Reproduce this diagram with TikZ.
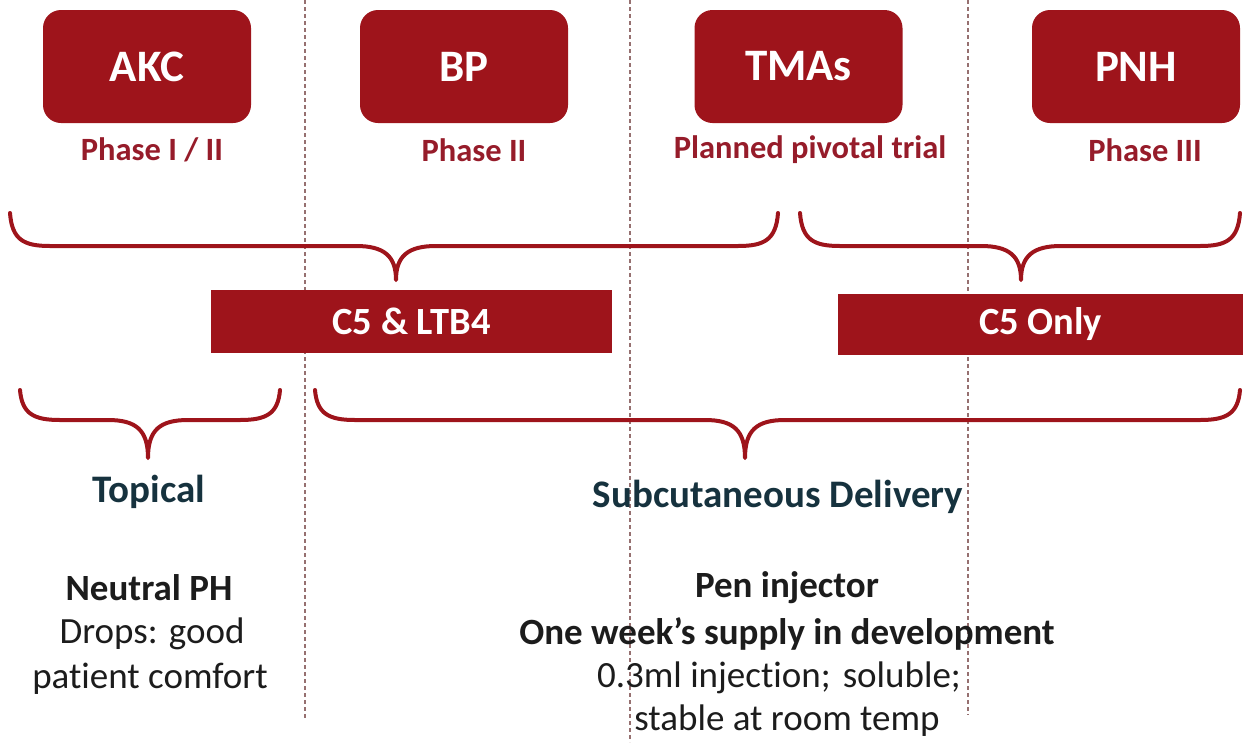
\documentclass[tikz,border=0pt]{standalone}
\usepackage{fontspec}
\setmainfont[Ligatures=NoCommon]{Carlito}
\definecolor{boxred}{RGB}{158,20,27}
\definecolor{phasered}{RGB}{150,28,42}
\definecolor{headteal}{RGB}{22,50,62}
\definecolor{bodyink}{RGB}{28,28,28}
\definecolor{guide}{RGB}{150,112,112}

% curly brace opening downwards: left tip, right tip, cusp x, tip y, bar y, cusp y
\newcommand\curlybrace[6]{%
  \draw[bracestroke] (#1,#4)
    .. controls (#1+2,#5-6) and (#1+14,#5) .. (#1+40,#5)
    -- (#3-40,#5)
    .. controls (#3-12,#5) and (#3,#5+10) .. (#3,#6)
    .. controls (#3,#5+10) and (#3+12,#5) .. (#3+40,#5)
    -- (#2-40,#5)
    .. controls (#2-14,#5) and (#2-2,#5-6) .. (#2,#4);}

\begin{document}
\begin{tikzpicture}[x=1pt,y=-1pt,
  indication/.style={fill=boxred, rounded corners=18pt, minimum width=208pt,
    minimum height=113pt, inner sep=0pt, text=white,
    font=\bfseries\fontsize{45}{54}\selectfont},
  phase/.style={text=phasered, font=\bfseries\fontsize{32.5}{39}\selectfont},
  target/.style={fill=boxred, inner sep=0pt, text=white,
    font=\bfseries\fontsize{38.5}{46}\selectfont},
  route/.style={text=headteal, font=\bfseries\fontsize{39}{47}\selectfont},
  keypoint/.style={text=bodyink, font=\bfseries\fontsize{37}{44}\selectfont},
  detail/.style={text=bodyink, font=\fontsize{37}{44}\selectfont},
  bracestroke/.style={draw=boxred, line width=4pt, line cap=round, line join=round},
  divider/.style={draw=guide, line width=1.2pt, dash pattern=on 4pt off 3pt}]

\useasboundingbox (0,0) rectangle (1247,742);

% column dividers
\draw[divider] (305,0) -- (305,720);
\draw[divider] (630,0) -- (630,742);
\draw[divider] (968,0) -- (968,715);

% indications and their trial phase
\node[indication] (akc) at (147,66.5) {AKC};
\node[indication] (bp) at (464,66.5) {BP};
\node[indication] (tma) at (798.5,66.5) {TMAs};
\node[indication] (pnh) at (1136,66.5) {PNH};

\node[phase] (akcph) at (152,150) {Phase I / II};
\node[phase] (bpph) at (474,150) {Phase II};
\node[phase] (tmaph) at (810,150) {Planned pivotal trial};
\node[phase] (pnhph) at (1145,150) {Phase III};

% groupings by target
\curlybrace{10}{778}{396}{213}{246}{280}
\curlybrace{800}{1240}{1021}{213}{246}{280}

\node[target, minimum width=401pt, minimum height=63pt] (dual) at (411.5,321.5) {C5 \& LTB4};
\node[target, minimum width=405pt, minimum height=61pt] (single) at (1040.5,324.5) {C5 Only};

% groupings by delivery route
\curlybrace{20}{280}{148}{390}{420}{458}
\curlybrace{315}{1240}{745}{390}{420}{458}

\node[route] (topical) at (149,492) {Topical};
\node[route] (subq) at (778,497) {Subcutaneous Delivery};

\node[keypoint] (neutral) at (149,588) {Neutral PH};
\node[detail] (drops) at (152,634) {Drops: good};
\node[detail] (comfort) at (150,679) {patient comfort};

\node[keypoint] (pen) at (787,588) {Pen injector};
\node[keypoint] (supply) at (787,634) {One week’s supply in development};
\node[detail] (inject) at (779,678) {0.3ml injection;\hspace{12pt}soluble;};
\node[detail] (stable) at (787,721) {stable at room temp};
\end{tikzpicture}
\end{document}
